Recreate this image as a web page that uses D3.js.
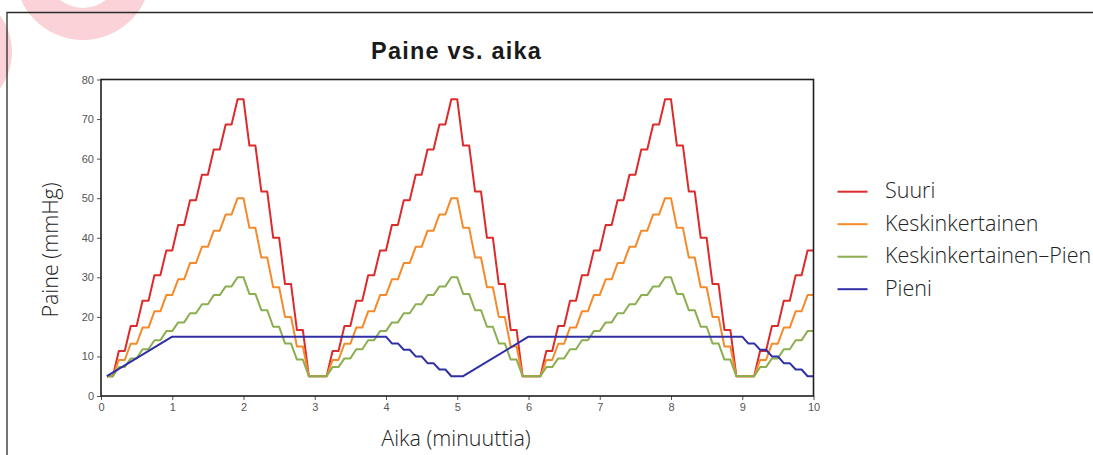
<!DOCTYPE html>
<html>
<head>
<meta charset="utf-8">
<script src="https://cdn.jsdelivr.net/npm/d3@7"></script>
<style>
  html, body { margin: 0; padding: 0; background: #fff; }
  svg { display: block; }
</style>
</head>
<body>
<div id="chart"></div>
<script>
// ---------- DATA ----------
const title = "Paine vs. aika";
const xLabel = "Aika (minuuttia)";
const yLabel = "Paine (mmHg)";
const seriesNames = ["Suuri", "Keskinkertainen", "Keskinkertainen\u2013Pien", "Pieni"];
const seriesColors = ["#dc2b2b", "#f68a2b", "#8cae50", "#2f2fa6"];
const xTicks = [0, 1, 2, 3, 4, 5, 6, 7, 8, 9, 10];
const yTicks = [0, 10, 20, 30, 40, 50, 60, 70, 80];

// time points (minutes) shared by the three staircase series
const timeMin = [
  0.083, 0.167, 0.25, 0.333, 0.417, 0.5, 0.583, 0.667, 0.75, 0.833, 0.917, 1.0,
  1.083, 1.167, 1.25, 1.333, 1.417, 1.5, 1.583, 1.667, 1.75, 1.833, 1.917, 2.0,
  2.083, 2.167, 2.25, 2.333, 2.417, 2.5, 2.583, 2.667, 2.75, 2.833, 2.917,
  3.167, 3.25, 3.333, 3.417, 3.5, 3.583, 3.667, 3.75, 3.833, 3.917, 4.0,
  4.083, 4.167, 4.25, 4.333, 4.417, 4.5, 4.583, 4.667, 4.75, 4.833, 4.917, 5.0,
  5.083, 5.167, 5.25, 5.333, 5.417, 5.5, 5.583, 5.667, 5.75, 5.833, 5.917,
  6.167, 6.25, 6.333, 6.417, 6.5, 6.583, 6.667, 6.75, 6.833, 6.917, 7.0,
  7.083, 7.167, 7.25, 7.333, 7.417, 7.5, 7.583, 7.667, 7.75, 7.833, 7.917, 8.0,
  8.083, 8.167, 8.25, 8.333, 8.417, 8.5, 8.583, 8.667, 8.75, 8.833, 8.917,
  9.167, 9.25, 9.333, 9.417, 9.5, 9.583, 9.667, 9.75, 9.833, 9.917, 10.0
];

const suuri = [
  5, 5, 11.4, 11.4, 17.7, 17.7, 24.1, 24.1, 30.5, 30.5, 36.8, 36.8,
  43.2, 43.2, 49.5, 49.5, 55.9, 55.9, 62.3, 62.3, 68.6, 68.6, 75, 75,
  63.3, 63.3, 51.7, 51.7, 40, 40, 28.3, 28.3, 16.7, 16.7, 5,
  5, 11.4, 11.4, 17.7, 17.7, 24.1, 24.1, 30.5, 30.5, 36.8, 36.8,
  43.2, 43.2, 49.5, 49.5, 55.9, 55.9, 62.3, 62.3, 68.6, 68.6, 75, 75,
  63.3, 63.3, 51.7, 51.7, 40, 40, 28.3, 28.3, 16.7, 16.7, 5,
  5, 11.4, 11.4, 17.7, 17.7, 24.1, 24.1, 30.5, 30.5, 36.8, 36.8,
  43.2, 43.2, 49.5, 49.5, 55.9, 55.9, 62.3, 62.3, 68.6, 68.6, 75, 75,
  63.3, 63.3, 51.7, 51.7, 40, 40, 28.3, 28.3, 16.7, 16.7, 5,
  5, 11.4, 11.4, 17.7, 17.7, 24.1, 24.1, 30.5, 30.5, 36.8, 36.8
];

const keskinkertainen = [
  5, 5, 9.1, 9.1, 13.2, 13.2, 17.3, 17.3, 21.4, 21.4, 25.5, 25.5,
  29.5, 29.5, 33.6, 33.6, 37.7, 37.7, 41.8, 41.8, 45.9, 45.9, 50, 50,
  42.5, 42.5, 35, 35, 27.5, 27.5, 20, 20, 12.5, 12.5, 5,
  5, 9.1, 9.1, 13.2, 13.2, 17.3, 17.3, 21.4, 21.4, 25.5, 25.5,
  29.5, 29.5, 33.6, 33.6, 37.7, 37.7, 41.8, 41.8, 45.9, 45.9, 50, 50,
  42.5, 42.5, 35, 35, 27.5, 27.5, 20, 20, 12.5, 12.5, 5,
  5, 9.1, 9.1, 13.2, 13.2, 17.3, 17.3, 21.4, 21.4, 25.5, 25.5,
  29.5, 29.5, 33.6, 33.6, 37.7, 37.7, 41.8, 41.8, 45.9, 45.9, 50, 50,
  42.5, 42.5, 35, 35, 27.5, 27.5, 20, 20, 12.5, 12.5, 5,
  5, 9.1, 9.1, 13.2, 13.2, 17.3, 17.3, 21.4, 21.4, 25.5, 25.5
];

const keskinkertainenPien = [
  5, 5, 7.3, 7.3, 9.5, 9.5, 11.8, 11.8, 14.1, 14.1, 16.4, 16.4,
  18.6, 18.6, 20.9, 20.9, 23.2, 23.2, 25.5, 25.5, 27.7, 27.7, 30, 30,
  25.8, 25.8, 21.7, 21.7, 17.5, 17.5, 13.3, 13.3, 9.2, 9.2, 5,
  5, 7.3, 7.3, 9.5, 9.5, 11.8, 11.8, 14.1, 14.1, 16.4, 16.4,
  18.6, 18.6, 20.9, 20.9, 23.2, 23.2, 25.5, 25.5, 27.7, 27.7, 30, 30,
  25.8, 25.8, 21.7, 21.7, 17.5, 17.5, 13.3, 13.3, 9.2, 9.2, 5,
  5, 7.3, 7.3, 9.5, 9.5, 11.8, 11.8, 14.1, 14.1, 16.4, 16.4,
  18.6, 18.6, 20.9, 20.9, 23.2, 23.2, 25.5, 25.5, 27.7, 27.7, 30, 30,
  25.8, 25.8, 21.7, 21.7, 17.5, 17.5, 13.3, 13.3, 9.2, 9.2, 5,
  5, 7.3, 7.3, 9.5, 9.5, 11.8, 11.8, 14.1, 14.1, 16.4, 16.4
];

const pieniTime = [
  0.083, 1.0, 4.0, 4.083, 4.167, 4.25, 4.333, 4.417, 4.5, 4.583, 4.667, 4.75, 4.833, 4.917,
  5.083, 6.0, 9.0, 9.083, 9.167, 9.25, 9.333, 9.417, 9.5, 9.583, 9.667, 9.75, 9.833, 9.917, 10.0
];
const pieni = [
  5, 15, 15, 13.3, 13.3, 11.7, 11.7, 10, 10, 8.3, 8.3, 6.7, 6.7, 5,
  5, 15, 15, 13.3, 13.3, 11.7, 11.7, 10, 10, 8.3, 8.3, 6.7, 6.7, 5, 5
];

// ---------- LAYOUT ----------
const W = 1093, H = 455;
const plot = { left: 101, right: 813.5, top: 79.5, bottom: 396 };

const svg = d3.select("#chart").append("svg")
  .attr("width", W).attr("height", H);

// decorative pink marks (top-left)
const deco = svg.append("g").attr("fill", "#fad2d7");
deco.append("path")
  .attr("d", d3.arc()({ innerRadius: 36, outerRadius: 68, startAngle: 0, endAngle: 2 * Math.PI }))
  .attr("transform", "translate(83,-28)");
deco.append("circle").attr("cx", -50).attr("cy", 52).attr("r", 62);

// outer frame
svg.append("path")
  .attr("d", `M7,455 V12.5 H${W}`)
  .attr("fill", "none").attr("stroke", "#2a2a2a").attr("stroke-width", 1.3);

const x = d3.scaleLinear().domain([0, 10]).range([plot.left, plot.right]);
const y = d3.scaleLinear().domain([0, 80]).range([plot.bottom, plot.top]);

// axes
const tickFont = "'Liberation Sans', Arial, sans-serif";
const gx = svg.append("g")
  .attr("transform", `translate(0,${plot.bottom})`)
  .call(d3.axisBottom(x).tickValues(xTicks).tickSize(4).tickPadding(3).tickFormat(d3.format("d")));
const gy = svg.append("g")
  .attr("transform", `translate(${plot.left},0)`)
  .call(d3.axisLeft(y).tickValues(yTicks).tickSize(4).tickPadding(3).tickFormat(d3.format("d")));
[gx, gy].forEach(g => {
  g.select(".domain").remove();
  g.selectAll(".tick line").attr("stroke", "#555").attr("stroke-width", 1);
  g.selectAll(".tick text").attr("fill", "#555").style("font-family", tickFont).style("font-size", "11px");
});

// series lines
const line = d3.line().x(d => x(d[0])).y(d => y(d[1]));
const seriesData = [
  d3.zip(timeMin, suuri),
  d3.zip(timeMin, keskinkertainen),
  d3.zip(timeMin, keskinkertainenPien),
  d3.zip(pieniTime, pieni)
];
svg.append("g").selectAll("path.series")
  .data(seriesData)
  .join("path")
  .attr("class", "series")
  .attr("d", line)
  .attr("fill", "none")
  .attr("stroke", (d, i) => seriesColors[i])
  .attr("stroke-width", 2)
  .attr("stroke-linejoin", "round");

// plot frame
svg.append("rect")
  .attr("x", plot.left).attr("y", plot.top)
  .attr("width", plot.right - plot.left).attr("height", plot.bottom - plot.top)
  .attr("fill", "none").attr("stroke", "#1e1e1e").attr("stroke-width", 1.6);

// title
svg.append("text")
  .attr("x", 456.5).attr("y", 59.3)
  .attr("text-anchor", "middle")
  .style("font-family", "'Liberation Sans', Arial, sans-serif")
  .style("font-weight", "bold")
  .style("font-size", "23.5px")
  .style("letter-spacing", "1.2px")
  .attr("fill", "#1a1a1a")
  .text(title);

const labelFont = "'Open Sans', sans-serif";
const labelSize = "21.5px";
// x label
svg.append("text")
  .attr("x", 456).attr("y", 446)
  .attr("text-anchor", "middle")
  .style("font-family", labelFont).style("font-weight", 300).style("font-size", labelSize)
  .attr("fill", "#222")
  .text(xLabel);

// y label
svg.append("text")
  .attr("transform", "translate(58,250) rotate(-90)")
  .attr("text-anchor", "middle")
  .style("font-family", labelFont).style("font-weight", 300).style("font-size", labelSize)
  .attr("fill", "#222")
  .text(yLabel);

// legend
const legend = svg.append("g").selectAll("g")
  .data(seriesNames)
  .join("g")
  .attr("transform", (d, i) => `translate(837.5,${191.7 + i * 32.5})`);
legend.append("line")
  .attr("x1", 0).attr("x2", 30).attr("y1", 0).attr("y2", 0)
  .attr("stroke", (d, i) => seriesColors[i]).attr("stroke-width", 2);
legend.append("text")
  .attr("x", 47.5).attr("y", 6.5)
  .style("font-family", labelFont).style("font-weight", 300).style("font-size", labelSize)
  .attr("fill", "#222")
  .text(d => d);
</script>
</body>
</html>
